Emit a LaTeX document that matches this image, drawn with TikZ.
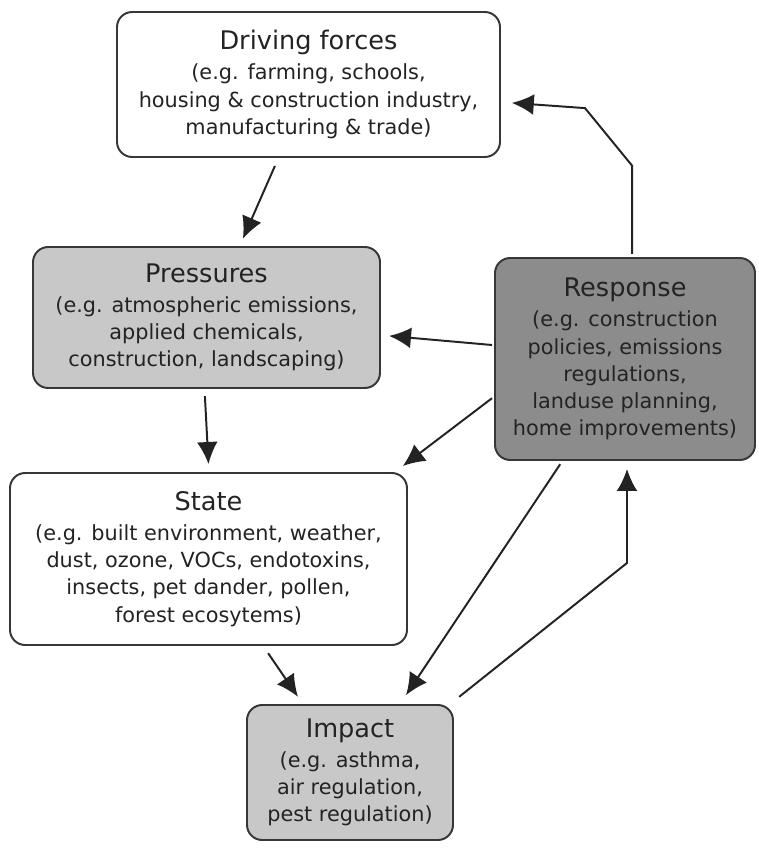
\documentclass[tikz,border=0pt]{standalone}
\usepackage{fontspec}
\setmainfont{DejaVu Sans}
\usetikzlibrary{arrows.meta}
\definecolor{lightbox}{RGB}{200,200,200}
\definecolor{darkbox}{RGB}{140,140,140}
\definecolor{edge}{RGB}{55,55,55}
\definecolor{ink}{RGB}{35,35,35}
\newcommand{\boxtitle}[1]{{\fontsize{18.2}{20}\selectfont #1}\\[2pt]}
\tikzset{
  stage/.style={draw=edge, line width=1.4pt, rounded corners=0.38cm, align=center,
    inner sep=0pt, text=ink, font=\fontsize{14.8}{19.3}\selectfont},
  link/.style={->, draw=ink, line width=1.4pt}
}
\begin{document}
\begin{tikzpicture}[>={Latex[length=5.5mm,width=5.2mm]}]
\useasboundingbox (0,0) rectangle (18.95,-21.225);
% Boxes
\node[stage, fill=white, minimum width=9.575cm, minimum height=3.625cm] (drv) at (7.7125,-2.1125)
  {\boxtitle{Driving forces}(e.g. farming, schools,\\housing \& construction industry,\\manufacturing \& trade)};
\node[stage, fill=lightbox, minimum width=8.675cm, minimum height=3.525cm] (prs) at (5.1625,-7.9375)
  {\boxtitle{Pressures}(e.g. atmospheric emissions,\\applied chemicals,\\construction, landscaping)};
\node[stage, fill=darkbox, minimum width=6.5cm, minimum height=5.05cm] (rsp) at (15.625,-8.975)
  {\boxtitle{Response}(e.g. construction\\policies, emissions\\regulations,\\landuse planning,\\home improvements)};
\node[stage, fill=white, minimum width=9.925cm, minimum height=4.3cm] (st) at (5.2125,-13.975)
  {\boxtitle{State}(e.g. built environment, weather,\\dust, ozone, VOCs, endotoxins,\\insects, pet dander, pollen,\\forest ecosytems)};
\node[stage, fill=lightbox, minimum width=5.15cm, minimum height=3.375cm] (imp) at (8.75,-19.3125)
  {\boxtitle{Impact}(e.g. asthma,\\air regulation,\\pest regulation)};
% Main chain
\draw[link] ([xshift=-0.84cm,yshift=-0.2cm]drv.south) -- ([xshift=0.91cm,yshift=0.18cm]prs.north);
\draw[link] ([xshift=-0.04cm,yshift=-0.18cm]prs.south) -- ([yshift=0.2cm]st.north);
\draw[link] ([xshift=1.49cm,yshift=-0.18cm]st.south) -- ([xshift=-1.3cm,yshift=0.18cm]imp.north);
% Response links
\draw[link] ([xshift=-0.05cm,yshift=0.35cm]rsp.west) -- ([xshift=0.2cm,yshift=-0.46cm]prs.east);
\draw[link] ([xshift=-0.05cm,yshift=-0.98cm]rsp.west) -- ([xshift=-0.13cm,yshift=0.15cm]st.north east);
\draw[link] ([xshift=-1.62cm,yshift=-0.08cm]rsp.south) -- ([xshift=-1.2cm,yshift=0.22cm]imp.north east);
\draw[link] ([xshift=0.13cm,yshift=0.18cm]imp.north east) -- ([xshift=0.05cm,yshift=-2.55cm]rsp.south)
  -- ([xshift=0.05cm,yshift=-0.2cm]rsp.south);
\draw[link] ([xshift=0.18cm,yshift=0.08cm]rsp.north) -- ([xshift=0.18cm,yshift=2.28cm]rsp.north)
  -- ([xshift=2.1cm,yshift=-0.59cm]drv.east) -- ([xshift=0.27cm,yshift=-0.46cm]drv.east);
\end{tikzpicture}
\end{document}
